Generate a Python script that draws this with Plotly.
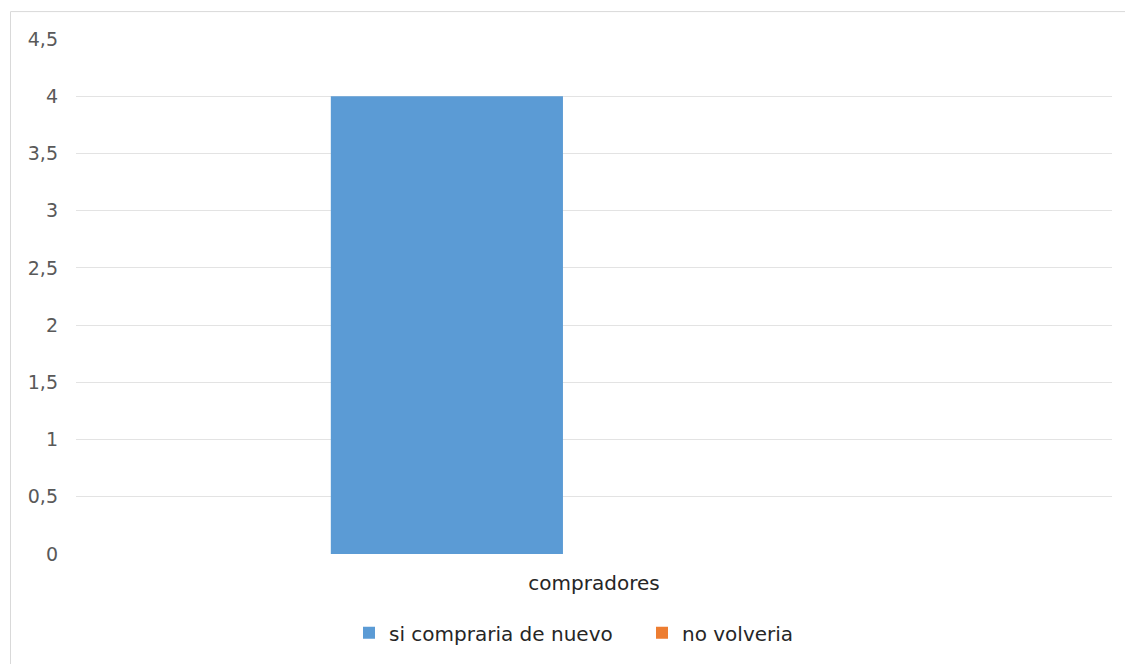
import plotly.graph_objects as go

categories = ["compradores"]
series_names = ["si compraria de nuevo", "no volveria"]
si_compraria = [4]
no_volveria = [0]
y_ticks = [0, 0.5, 1, 1.5, 2, 2.5, 3, 3.5, 4, 4.5]

colors = ["#5B9BD5", "#ED7D31"]
font_family = "DejaVu Sans, Verdana, sans-serif"

fig = go.Figure()
for name, vals, col in zip(series_names, [si_compraria, no_volveria], colors):
    fig.add_trace(go.Bar(x=categories, y=vals, name=name, marker=dict(color=col, line=dict(width=0))))

W, H = 1125, 664
L, R, T, B = 76, 13, 39, 108
pw, ph = W - L - R, H - T - B

def px_x(p):
    return (p - L) / pw

def px_y(p):
    return (H - B - p) / ph

fig.update_layout(
    width=W, height=H,
    margin=dict(l=L, r=R, t=T, b=B),
    paper_bgcolor="white", plot_bgcolor="white",
    separators=",.",
    barmode="group", bargap=0.432, bargroupgap=0.211,
    font=dict(family=font_family, color="#404040", size=19),
    showlegend=True,
    legend=dict(orientation="h", x=px_x(349), xanchor="left", y=px_y(635), yanchor="middle",
                font=dict(size=20, color="#262626"), itemwidth=30, traceorder="normal",
                entrywidth=248, entrywidthmode="pixels"),
    xaxis=dict(showgrid=False, showline=False, zeroline=False, ticks="",
               tickfont=dict(size=20, color="#262626"), ticklabelstandoff=15),
    yaxis=dict(range=[0, 4.5], tickvals=y_ticks, showgrid=True, gridcolor="#E3E3E3", gridwidth=1,
               zeroline=False, showline=False, ticks="", ticklabelstandoff=17,
               tickfont=dict(size=19, color="#595959")),
    shapes=[dict(type="rect", xref="paper", yref="paper",
                 x0=px_x(10.5), x1=px_x(1200), y0=px_y(800), y1=px_y(11.5),
                 line=dict(color="#D9D9D9", width=1), fillcolor="rgba(0,0,0,0)", layer="below")],
)

fig.write_html("out.html")
